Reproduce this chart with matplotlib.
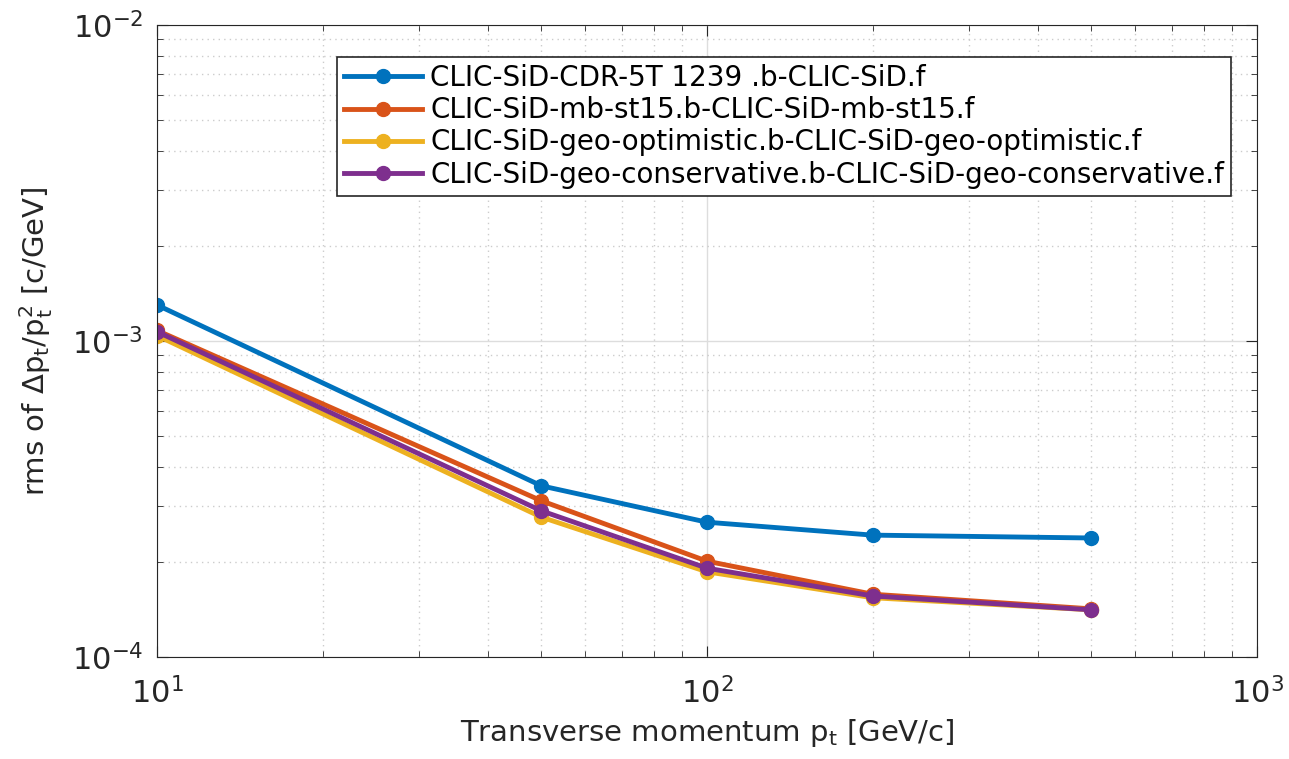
import numpy as np
import matplotlib
matplotlib.use('Agg')
from matplotlib import pyplot as plt
from matplotlib.ticker import LogLocator, NullFormatter

pt = [10, 50, 100, 200, 500]
cdr = [1.30e-3, 3.48e-4, 2.67e-4, 2.43e-4, 2.38e-4]
mb = [1.08e-3, 3.12e-4, 2.01e-4, 1.58e-4, 1.42e-4]
opt = [1.04e-3, 2.77e-4, 1.86e-4, 1.54e-4, 1.41e-4]
cons = [1.07e-3, 2.90e-4, 1.91e-4, 1.56e-4, 1.41e-4]
names = ['CLIC-SiD-CDR-5T 1239 .b-CLIC-SiD.f',
         'CLIC-SiD-mb-st15.b-CLIC-SiD-mb-st15.f',
         'CLIC-SiD-geo-optimistic.b-CLIC-SiD-geo-optimistic.f',
         'CLIC-SiD-geo-conservative.b-CLIC-SiD-geo-conservative.f']
colors = [(0, 0.447, 0.741), (0.85, 0.325, 0.098), (0.929, 0.694, 0.125), (0.494, 0.184, 0.556)]

plt.rcParams['font.family'] = ['DejaVu Sans']
fig = plt.figure(figsize=(12.89, 7.59), dpi=100)
ax = fig.add_axes([0.1218, 0.1344, 0.8534, 0.8327])

for y, c, n in zip([cdr, mb, opt, cons], colors, names):
    ax.plot(pt, y, '-o', color=c, lw=3.5, ms=10, label=n)

ax.set_xscale('log')
ax.set_yscale('log')
ax.set_xlim(10, 1000)
ax.set_ylim(1e-4, 1e-2)
ax.xaxis.set_major_locator(LogLocator(base=10, numticks=10))
ax.yaxis.set_major_locator(LogLocator(base=10, numticks=10))
ax.xaxis.set_minor_locator(LogLocator(base=10, subs=np.arange(2, 10), numticks=20))
ax.yaxis.set_minor_locator(LogLocator(base=10, subs=np.arange(2, 10), numticks=20))
ax.xaxis.set_minor_formatter(NullFormatter())
ax.yaxis.set_minor_formatter(NullFormatter())
ax.grid(True, which='major', color='#dddddd', lw=1)
ax.grid(True, which='minor', color='#cccccc', lw=1, ls=(0, (1, 3)))
ax.tick_params(which='both', direction='in', top=True, right=True, color='#262626')
ax.tick_params(which='major', length=8, labelsize=22, labelcolor='#262626')
ax.tick_params(axis='x', which='major', pad=14)
ax.tick_params(axis='y', which='major', pad=10)
ax.tick_params(which='minor', length=4)
for s in ax.spines.values():
    s.set_color('#262626')

ax.set_xlabel('Transverse momentum p$_\\mathregular{t}$ [GeV/c]', fontsize=21, color='#262626', labelpad=6)
ax.set_ylabel('rms of $\\Delta$p$_\\mathregular{t}$/p$_\\mathregular{t}^\\mathregular{2}$ [c/GeV]', fontsize=21,
              color='#262626', labelpad=12)

leg = ax.legend(loc='upper left', bbox_to_anchor=(0.164, 0.949), borderaxespad=0, fontsize=20,
                fancybox=False, edgecolor='#262626', framealpha=1, handlelength=2.8, borderpad=0.25,
                labelspacing=0.15, handletextpad=0.3)
leg.get_frame().set_linewidth(1.2)

fig.savefig('out.png', dpi=100)
